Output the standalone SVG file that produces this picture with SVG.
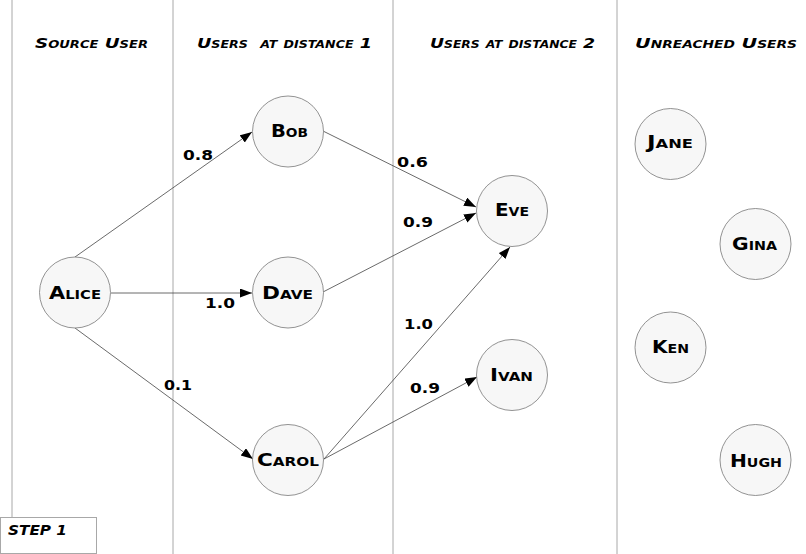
<svg xmlns="http://www.w3.org/2000/svg" width="806" height="554" viewBox="0 0 806 554">
<defs>
<marker id="arrow" markerUnits="userSpaceOnUse" markerWidth="13" markerHeight="10" refX="12" refY="4.5" orient="auto">
<path d="M0,0 L12,4.5 L0,9 z" fill="#000"/>
</marker>
<style>
.lane{stroke:#a8a8a8;stroke-width:1;fill:none}
.hdr{font-family:"DejaVu Sans","Liberation Sans",sans-serif;font-weight:bold;font-style:italic;font-variant:small-caps;font-size:14px;fill:#000;white-space:pre}
.node circle{fill:#f7f7f7;stroke:#777;stroke-width:0.8}
.node text{font-family:"DejaVu Sans","Liberation Sans",sans-serif;font-weight:bold;font-variant:small-caps;font-size:17px;fill:#000}
.edge{stroke:#444;stroke-width:0.8;fill:none;marker-end:url(#arrow)}
.lbl{font-family:"DejaVu Sans","Liberation Sans",sans-serif;font-weight:bold;font-size:14.5px;fill:#000}
.step{font-family:"DejaVu Sans","Liberation Sans",sans-serif;font-weight:bold;font-style:italic;font-size:14px;fill:#000}
</style>
</defs>
<rect width="806" height="554" fill="#fff"/>
<g id="lanes">
<line class="lane" x1="12" y1="0" x2="12" y2="517"/>
<line class="lane" x1="173" y1="0" x2="173" y2="554"/>
<line class="lane" x1="393" y1="0" x2="393" y2="554"/>
<line class="lane" x1="617" y1="0" x2="617" y2="554"/>
</g>
<g id="headers">
<text class="hdr" x="35" y="48" textLength="113" lengthAdjust="spacingAndGlyphs">Source User</text>
<text class="hdr" x="197" y="48" textLength="175" lengthAdjust="spacingAndGlyphs" xml:space="preserve">Users  at distance 1</text>
<text class="hdr" x="430" y="48" textLength="165" lengthAdjust="spacingAndGlyphs">Users at distance 2</text>
<text class="hdr" x="635" y="48" textLength="162" lengthAdjust="spacingAndGlyphs">Unreached Users</text>
</g>
<g id="connectors">
<line class="edge" x1="75" y1="257" x2="252" y2="132"/>
<line class="edge" x1="111" y1="293" x2="252" y2="293"/>
<line class="edge" x1="75" y1="328" x2="253" y2="459"/>
<line class="edge" x1="323" y1="131" x2="476" y2="207"/>
<line class="edge" x1="323" y1="292" x2="476" y2="213"/>
<line class="edge" x1="324" y1="459" x2="510" y2="247"/>
<line class="edge" x1="324" y1="459" x2="477" y2="377"/>
<text class="lbl" x="183" y="160" textLength="30" lengthAdjust="spacingAndGlyphs">0.8</text>
<text class="lbl" x="205" y="308" textLength="30" lengthAdjust="spacingAndGlyphs">1.0</text>
<text class="lbl" x="164" y="390" textLength="28" lengthAdjust="spacingAndGlyphs">0.1</text>
<text class="lbl" x="397" y="167" textLength="31" lengthAdjust="spacingAndGlyphs">0.6</text>
<text class="lbl" x="403" y="227" textLength="30" lengthAdjust="spacingAndGlyphs">0.9</text>
<text class="lbl" x="404" y="329" textLength="29" lengthAdjust="spacingAndGlyphs">1.0</text>
<text class="lbl" x="410" y="393" textLength="30" lengthAdjust="spacingAndGlyphs">0.9</text>
</g>
<g id="alice" class="node"><circle cx="75" cy="292.5" r="35.5"/><text x="49" y="299" textLength="52" lengthAdjust="spacingAndGlyphs">Alice</text></g>
<g id="bob" class="node"><circle cx="288" cy="131.5" r="35.5"/><text x="271" y="137" textLength="37" lengthAdjust="spacingAndGlyphs">Bob</text></g>
<g id="dave" class="node"><circle cx="288" cy="292.5" r="35.5"/><text x="262" y="299" textLength="51" lengthAdjust="spacingAndGlyphs">Dave</text></g>
<g id="carol" class="node"><circle cx="288" cy="460" r="35.5"/><text x="257" y="466" textLength="62" lengthAdjust="spacingAndGlyphs">Carol</text></g>
<g id="eve" class="node"><circle cx="512" cy="211" r="35.5"/><text x="495" y="216" textLength="34" lengthAdjust="spacingAndGlyphs">Eve</text></g>
<g id="ivan" class="node"><circle cx="512" cy="375" r="35.5"/><text x="490" y="381" textLength="43" lengthAdjust="spacingAndGlyphs">Ivan</text></g>
<g id="jane" class="node"><circle cx="670.5" cy="144" r="35.5"/><text x="647" y="148" textLength="46" lengthAdjust="spacingAndGlyphs">Jane</text></g>
<g id="gina" class="node"><circle cx="755.5" cy="244" r="35.5"/><text x="732" y="250" textLength="45" lengthAdjust="spacingAndGlyphs">Gina</text></g>
<g id="ken" class="node"><circle cx="670.5" cy="347.5" r="35.5"/><text x="652" y="353" textLength="37" lengthAdjust="spacingAndGlyphs">Ken</text></g>
<g id="hugh" class="node"><circle cx="755.5" cy="460" r="35.5"/><text x="730" y="467" textLength="52" lengthAdjust="spacingAndGlyphs">Hugh</text></g>
<g id="step">
<rect x="0.5" y="517.5" width="96" height="36" fill="#fff" stroke="#a8a8a8" stroke-width="1"/>
<text class="step" x="8" y="535" textLength="59" lengthAdjust="spacingAndGlyphs">STEP 1</text>
</g>
</svg>
